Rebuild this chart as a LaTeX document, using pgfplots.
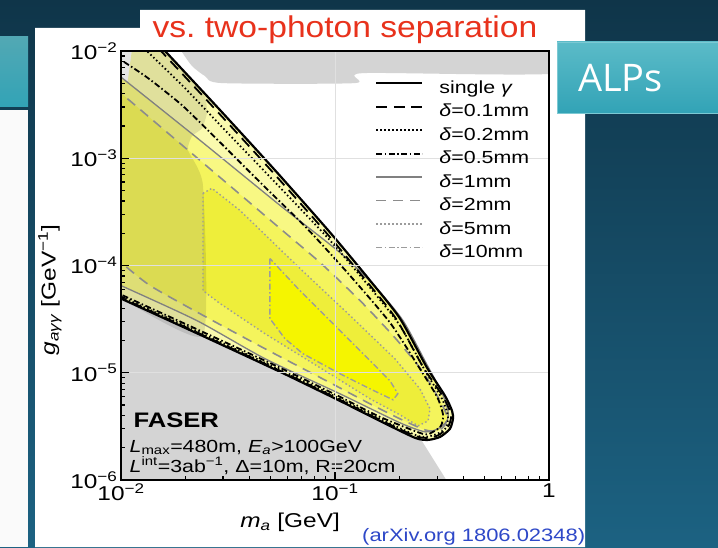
\documentclass[border=0pt]{standalone}
\usepackage{pgfplots}
\pgfplotsset{compat=1.18}
\usepackage{pgfplotstable}
\usepackage{fontspec}
\setmainfont{Liberation Sans}[FakeStretch=1.22]
\newfontfamily\titlefont{Liberation Sans}[FakeStretch=1.12]
\newfontfamily\alpsfont{Open Sans}
\definecolor{bgtop}{HTML}{0F3549}
\definecolor{bgbot}{HTML}{1C6282}
\definecolor{tealA}{HTML}{5BBBC8}
\definecolor{tealB}{HTML}{32A3B6}
\definecolor{titlered}{HTML}{E8321C}
\definecolor{arxivblue}{HTML}{2E48C8}
\definecolor{greyC}{HTML}{D4D4D4}
\definecolor{paleY}{HTML}{FAFAAE}
\definecolor{gAY}{HTML}{F8F883}
\definecolor{gBY}{HTML}{F4F45C}
\definecolor{gCY}{HTML}{EEEE3A}
\definecolor{gDY}{HTML}{F5F500}
\definecolor{lineA}{HTML}{808080}
\definecolor{lineB}{HTML}{8C8C8C}
\definecolor{lineC}{HTML}{9C9C9C}

% contours in log10 coordinates: lx = log10(m_a/GeV), ly = log10(g/GeV^-1)
\pgfplotstableread{
lx ly
-2.098 -4.215
-2.000 -4.308
-1.631 -4.645
-1.257 -4.991
-0.977 -5.262
-0.790 -5.449
-0.626 -5.607
-0.565 -5.626
-0.509 -5.598
-0.463 -5.523
-0.449 -5.430
-0.453 -5.355
-0.486 -5.215
-0.570 -4.953
-0.696 -4.495
-0.836 -4.140
-1.023 -3.692
-1.280 -3.112
-1.537 -2.551
-1.794 -2.000
-1.930 -1.710
}\tabO
\pgfplotstableread{
lx ly
-2.098 -4.206
-2.000 -4.299
-1.631 -4.636
-1.257 -4.981
-0.977 -5.252
-0.790 -5.439
-0.626 -5.589
-0.565 -5.607
-0.514 -5.579
-0.472 -5.505
-0.458 -5.421
-0.467 -5.336
-0.500 -5.206
-0.589 -4.944
-0.715 -4.495
-0.855 -4.140
-1.042 -3.692
-1.299 -3.112
-1.556 -2.551
-1.813 -2.000
-1.949 -1.710
}\tabBa
\pgfplotstableread{
lx ly
-2.098 -4.196
-2.000 -4.290
-1.631 -4.626
-1.257 -4.972
-0.977 -5.243
-0.790 -5.430
-0.626 -5.579
-0.575 -5.598
-0.523 -5.570
-0.481 -5.514
-0.472 -5.402
-0.500 -5.243
-0.579 -4.981
-0.696 -4.561
-0.836 -4.206
-1.023 -3.766
-1.280 -3.224
-1.514 -2.738
-1.701 -2.346
-1.879 -2.000
-2.005 -1.757
}\tabBb
\pgfplotstableread{
lx ly
-2.098 -4.178
-2.000 -4.271
-1.631 -4.607
-1.257 -4.953
-0.977 -5.224
-0.790 -5.411
-0.589 -5.570
-0.542 -5.551
-0.505 -5.495
-0.495 -5.393
-0.523 -5.224
-0.612 -4.935
-0.743 -4.533
-0.930 -4.093
-1.131 -3.654
-1.350 -3.224
-1.561 -2.804
-1.715 -2.505
-1.874 -2.252
-2.000 -2.084
-2.098 -1.972
}\tabBc
\pgfplotstableread{
lx ly
-2.098 -4.103
-2.000 -4.187
-1.645 -4.514
-1.327 -4.869
-0.977 -5.196
-0.696 -5.467
-0.579 -5.551
-0.519 -5.523
-0.477 -5.449
-0.472 -5.355
-0.500 -5.187
-0.575 -4.907
-0.682 -4.514
-0.813 -4.196
-0.977 -3.879
-1.257 -3.439
-1.631 -2.832
-2.000 -2.243
-2.098 -2.084
}\tabGa
\pgfplotstableread{
lx ly
-2.098 -3.813
-2.000 -3.972
-1.864 -4.187
-1.631 -4.449
-1.327 -4.776
-1.023 -5.093
-0.836 -5.290
-0.696 -5.430
-0.579 -5.533
-0.519 -5.542
-0.486 -5.486
-0.477 -5.402
-0.509 -5.262
-0.593 -4.981
-0.720 -4.673
-0.883 -4.327
-1.070 -3.972
-1.257 -3.654
-1.631 -3.019
-2.000 -2.393
-2.098 -2.224
}\tabGb
\pgfplotstableread{
lx ly
-1.617 -3.327
-1.575 -3.280
-1.444 -3.486
-1.178 -4.000
-0.944 -4.439
-0.720 -4.869
-0.603 -5.150
-0.556 -5.336
-0.565 -5.449
-0.612 -5.495
-0.696 -5.393
-0.836 -5.243
-1.070 -4.953
-1.327 -4.636
-1.537 -4.355
-1.617 -4.234
-1.617 -3.327
}\tabGc
\pgfplotstableread{
lx ly
-1.304 -3.935
-1.304 -4.495
-1.234 -4.682
-1.150 -4.822
-0.977 -5.009
-0.836 -5.150
-0.729 -5.252
-0.706 -5.196
-0.743 -5.075
-0.883 -4.794
-1.164 -4.234
-1.304 -3.935
}\tabGd
\pgfplotstableread{
lx ly
-2.098 -1.710
-1.930 -1.710
-1.794 -2.000
-1.617 -2.383
-1.598 -2.570
-1.621 -2.720
-1.668 -2.794
-1.687 -2.925
-1.617 -3.252
-1.617 -4.654
-2.000 -4.308
-2.098 -4.215
}\tabOv
\pgfplotstableread{
lx ly
-2.098 -4.215
-2.000 -4.308
-1.631 -4.645
-1.257 -4.991
-0.977 -5.262
-0.790 -5.449
-0.626 -5.607
-0.603 -5.607
-0.477 -6.009
-0.416 -6.196
-2.098 -6.196
}\tabGreyLow
\pgfplotstableread{
lx ly
-1.748 -1.897
-1.715 -2.009
-1.668 -2.140
-1.607 -2.234
-1.528 -2.299
-0.907 -2.299
-0.869 -2.206
0.051 -2.206
0.051 -1.897
}\tabGreyTop

\begin{document}
\begin{tikzpicture}[x=1pt,y=1pt]
\useasboundingbox (0,0) rectangle (718,547);
\clip (0,0) rectangle (718,547);
\shade[top color=bgtop, bottom color=bgbot] (0,0) rectangle (718,547);
\fill[white] (35,0) -- (35,519) -- (140,519) -- (140,537) -- (585,537) -- (585,0) -- cycle;
\fill[white!96!gray] (0,0) rectangle (28,437);
\shade[top color=tealA!90!black, bottom color=tealB] (0,440) rectangle (28,510);

\begin{axis}[
  at={(121pt,67pt)}, anchor=south west,
  width=428pt, height=429pt, scale only axis,
  xmode=log, ymode=log,
  xmin=0.01, xmax=1, ymin=1e-6, ymax=1e-2,
  xtick={0.01,0.1,1},
  xticklabels={10\textsuperscript{−2},10\textsuperscript{−1},1},
  ytick={1e-6,1e-5,1e-4,1e-3,1e-2},
  yticklabels={10\textsuperscript{−6},10\textsuperscript{−5},10\textsuperscript{−4},10\textsuperscript{−3},10\textsuperscript{−2}},
  minor xtick={0.02,0.03,0.04,0.05,0.06,0.07,0.08,0.09,0.2,0.3,0.4,0.5,0.6,0.7,0.8,0.9},
  minor ytick={2e-6,3e-6,4e-6,5e-6,6e-6,7e-6,8e-6,9e-6,2e-5,3e-5,4e-5,5e-5,6e-5,7e-5,8e-5,9e-5,2e-4,3e-4,4e-4,5e-4,6e-4,7e-4,8e-4,9e-4,2e-3,3e-3,4e-3,5e-3,6e-3,7e-3,8e-3,9e-3},
  tick pos=left, tick align=inside,
  major tick length=8pt, minor tick length=4.5pt,
  tick style={black, line width=1.2pt},
  axis line style={line width=1.8pt},
  ticklabel style={font=\fontsize{20}{20}\selectfont},
  grid=major, major grid style={black!12, line width=0.6pt},
  axis on top,
  xlabel={\textit{m}\textsubscript{\textit{a}} [GeV]},
  ylabel={\textit{g}\textsubscript{\textit{aγγ}} [GeV\textsuperscript{−1}]},
  xlabel style={at={(axis description cs:0.395,0)}, anchor=center, yshift=-42pt, font=\fontsize{20}{20}\selectfont},
  ylabel style={at={(axis description cs:-0.166,0.443)}, anchor=center, font=\fontsize{20}{20}\selectfont},
  legend style={at={(rel axis cs:0.5935,0.939)}, anchor=north west, draw=none, fill=none,
    inner sep=0pt, font=\fontsize{17.5}{17.5}\selectfont, row sep=0pt,
    nodes={inner xsep=0pt, inner ysep=0pt, text height=16pt, text depth=7.5pt},
    /tikz/every odd column/.append style={column sep=16pt}},
  legend cell align=left,
  legend image code/.code={\draw[#1] (0pt,6pt) -- (46pt,6pt);},
]
% existing constraints
\addplot[fill=greyC, draw=none, forget plot] table[x expr={10^(\thisrow{lx})}, y expr={10^(\thisrow{ly})}] {\tabGreyLow};
\addplot[fill=greyC, draw=none, forget plot, smooth, tension=0.4] table[x expr={10^(\thisrow{lx})}, y expr={10^(\thisrow{ly})}] {\tabGreyTop};
% sensitivity regions
\addplot[fill=paleY, draw=none, forget plot, smooth, tension=0.4] table[x expr={10^(\thisrow{lx})}, y expr={10^(\thisrow{ly})}] {\tabO};
\addplot[fill=gAY, draw=none, forget plot, smooth, tension=0.4] table[x expr={10^(\thisrow{lx})}, y expr={10^(\thisrow{ly})}] {\tabGa};
\addplot[fill=gBY, draw=none, forget plot, smooth, tension=0.4] table[x expr={10^(\thisrow{lx})}, y expr={10^(\thisrow{ly})}] {\tabGb};
\addplot[fill=gCY, draw=none, forget plot] table[x expr={10^(\thisrow{lx})}, y expr={10^(\thisrow{ly})}] {\tabGc};
\addplot[fill=gDY, draw=none, forget plot] table[x expr={10^(\thisrow{lx})}, y expr={10^(\thisrow{ly})}] {\tabGd};
\addplot[fill=black, fill opacity=0.1, draw=none, forget plot, smooth, tension=0.3] table[x expr={10^(\thisrow{lx})}, y expr={10^(\thisrow{ly})}] {\tabOv};
% contour lines
\addplot[lineC, line width=1.4pt, dash pattern=on 6pt off 2.5pt on 1.5pt off 2.5pt, forget plot] table[x expr={10^(\thisrow{lx})}, y expr={10^(\thisrow{ly})}] {\tabGd};
\addplot[lineC, line width=1.4pt, dash pattern=on 1.5pt off 2.5pt, forget plot] table[x expr={10^(\thisrow{lx})}, y expr={10^(\thisrow{ly})}] {\tabGc};
\addplot[lineB, line width=1.6pt, dash pattern=on 10pt off 7pt, forget plot, smooth, tension=0.4] table[x expr={10^(\thisrow{lx})}, y expr={10^(\thisrow{ly})}] {\tabGb};
\addplot[lineA, line width=1.3pt, forget plot, smooth, tension=0.4] table[x expr={10^(\thisrow{lx})}, y expr={10^(\thisrow{ly})}] {\tabGa};
\addplot[black, line width=1.8pt, dash pattern=on 6pt off 2.5pt on 1.5pt off 2.5pt, forget plot, smooth, tension=0.4] table[x expr={10^(\thisrow{lx})}, y expr={10^(\thisrow{ly})}] {\tabBc};
\addplot[black, line width=1.8pt, dash pattern=on 1.5pt off 2.5pt, forget plot, smooth, tension=0.4] table[x expr={10^(\thisrow{lx})}, y expr={10^(\thisrow{ly})}] {\tabBb};
\addplot[black, line width=1.8pt, dash pattern=on 11pt off 6.5pt, forget plot, smooth, tension=0.4] table[x expr={10^(\thisrow{lx})}, y expr={10^(\thisrow{ly})}] {\tabBa};
\addplot[black, line width=2.2pt, forget plot, smooth, tension=0.4] table[x expr={10^(\thisrow{lx})}, y expr={10^(\thisrow{ly})}] {\tabO};
% legend
\addlegendimage{black, line width=2.2pt}
\addlegendentry{single \textit{γ}}
\addlegendimage{black, line width=1.8pt, dash pattern=on 11pt off 6.5pt}
\addlegendentry{\textit{δ}=0.1mm}
\addlegendimage{black, line width=1.8pt, dash pattern=on 1.5pt off 2.5pt}
\addlegendentry{\textit{δ}=0.2mm}
\addlegendimage{black, line width=1.8pt, dash pattern=on 6pt off 2.5pt on 1.5pt off 2.5pt}
\addlegendentry{\textit{δ}=0.5mm}
\addlegendimage{lineA, line width=1.3pt}
\addlegendentry{\textit{δ}=1mm}
\addlegendimage{lineB, line width=1.6pt, dash pattern=on 10pt off 7pt}
\addlegendentry{\textit{δ}=2mm}
\addlegendimage{lineC, line width=1.4pt, dash pattern=on 1.5pt off 2.5pt}
\addlegendentry{\textit{δ}=5mm}
\addlegendimage{lineC, line width=1.4pt, dash pattern=on 6pt off 2.5pt on 1.5pt off 2.5pt}
\addlegendentry{\textit{δ}=10mm}
% annotation
\node[anchor=base west, font=\bfseries\fontsize{21}{21}\selectfont] at (rel axis cs:0.021,0.1235) {FASER};
\node[anchor=base west, font=\fontsize{17.5}{17.5}\selectfont] at (rel axis cs:0.012,0.065) {\textit{L}\textsubscript{max}=480m, \textit{E}\textsubscript{\textit{a}}>100GeV};
\node[anchor=base west, font=\fontsize{17.5}{17.5}\selectfont] at (rel axis cs:0.012,0.0186) {\textit{L}\textsuperscript{int}=3ab\textsuperscript{−1}, Δ=10m, R=20cm};
\end{axis}

\shadedraw[top color=tealA, bottom color=tealB, draw=tealA!80!white, line width=0.8pt] (557,434) rectangle (718,505);
\node[anchor=base west, text=white, font=\alpsfont\fontsize{38}{38}\selectfont, inner sep=0pt] at (578,455) {ALPs};
\node[anchor=base west, text=arxivblue, font=\fontsize{18}{18}\selectfont, inner sep=0pt] at (362,6) {(arXiv.org 1806.02348)};
\node[anchor=base, text=titlered, font=\titlefont\fontsize{30}{30}\selectfont, inner sep=0pt] at (345,509) {vs.\ two-photon separation};
\end{tikzpicture}
\end{document}
